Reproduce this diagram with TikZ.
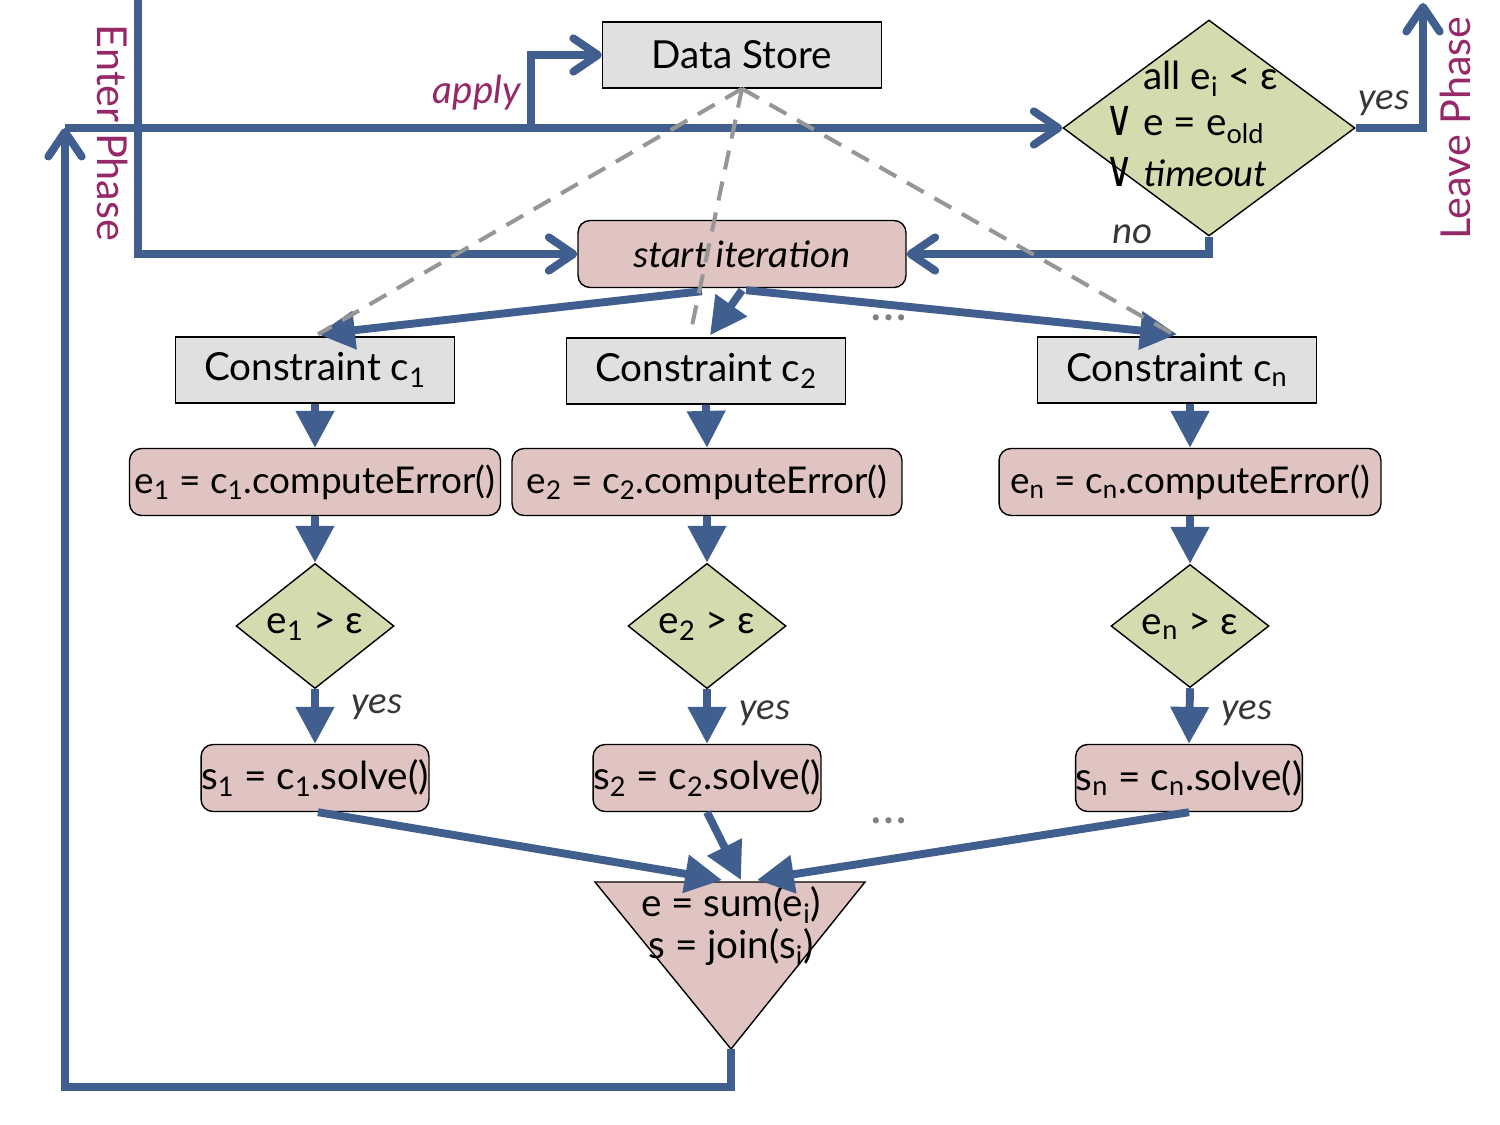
\documentclass[tikz,border=0pt]{standalone}
\usepackage{fontspec}
\usepackage{graphicx}
\setmainfont{Lato}
\newfontfamily\carl{Carlito}
\newfontfamily\dejavu{DejaVu Sans}
\usetikzlibrary{arrows.meta,shapes.geometric,calc}
\definecolor{fblue}{RGB}{64,94,142}
\definecolor{boxgray}{RGB}{224,224,224}
\definecolor{boxpink}{RGB}{224,196,194}
\definecolor{boxgreen}{RGB}{211,220,174}
\definecolor{phasepurple}{RGB}{150,40,105}
\definecolor{dgray}{RGB}{150,150,150}
\definecolor{lblgray}{RGB}{55,55,55}
\newcommand{\orsym}{\scalebox{1}[1.3]{\dejavu ∨}}
\begin{document}
\begin{tikzpicture}[x=0.02cm,y=-0.02cm,
  mainfont/.style={font=\fontsize{22pt}{26pt}\selectfont},
  gbox/.style={draw, line width=0.8pt, fill=boxgray, minimum width=5.58cm, minimum height=1.32cm, inner sep=0pt, mainfont},
  pbox/.style={draw, line width=0.8pt, fill=boxpink, rounded corners=0.24cm, minimum height=1.34cm, inner sep=0pt, mainfont},
  cbox/.style={pbox, font=\fontsize{21pt}{25pt}\selectfont},
  dia/.style={diamond, draw, line width=0.8pt, fill=boxgreen, inner sep=0pt, minimum width=3.16cm, minimum height=2.4cm, mainfont},
  flow/.style={draw=fblue, line width=4.5pt},
  chev/.style={flow, -{Straight Barb[length=14pt,width=19pt,round]}},
  tri/.style={flow, -{Triangle[length=21pt,width=21pt]}},
  dline/.style={draw=dgray, line width=2.3pt, dash pattern=on 11pt off 7pt},
  lbl/.style={text=lblgray, font=\fontsize{22pt}{26pt}\selectfont\carl\itshape},
  phase/.style={text=phasepurple, font=\fontsize{23.5pt}{26pt}\selectfont},
  dots/.style={text=gray, font=\fontsize{28pt}{30pt}\selectfont}
]
\useasboundingbox (0,0) rectangle (1500,1125);

% nodes
\node[gbox] (ds) at (742,55) {Data Store};
\node[diamond, draw, line width=0.8pt, fill=boxgreen, inner sep=0pt, minimum width=5.84cm, minimum height=4.32cm] (bd) at (1209,128) {};
\node[mainfont, anchor=west, inner sep=0pt] (dt1) at (1143,79) {all e\textsubscript{i} < ε};
\node[mainfont, anchor=west, inner sep=0pt] (dt2) at (1105,125) {\orsym\ e = e\textsubscript{old}};
\node[mainfont, anchor=west, inner sep=0pt] (dt3) at (1105,172) {\orsym\ {\carl\itshape timeout}};

\node[pbox, minimum width=6.56cm, font=\fontsize{22pt}{26pt}\selectfont\carl\itshape] (start) at (742,254) {start iteration};

\node[gbox] (c1) at (315,370) {Constraint c\textsubscript{1}};
\node[gbox] (c2) at (706,371) {Constraint c\textsubscript{2}};
\node[gbox] (cn) at (1177,370) {Constraint c\textsubscript{n}};

\node[cbox, minimum width=7.42cm] (e1) at (315,482) {e\textsubscript{1} = c\textsubscript{1}.computeError()};
\node[cbox, minimum width=7.8cm] (e2) at (707,482) {e\textsubscript{2} = c\textsubscript{2}.computeError()};
\node[cbox, minimum width=7.64cm] (en) at (1190,482) {e\textsubscript{n} = c\textsubscript{n}.computeError()};

\node[dia] (d1) at (315,626) {e\textsubscript{1} > ε};
\node[dia] (d2) at (707,626) {e\textsubscript{2} > ε};
\node[dia] (dn) at (1190,626) {e\textsubscript{n} > ε};

\node[pbox, minimum width=4.38cm] (s1) at (315,778) {s\textsubscript{1} = c\textsubscript{1}.solve()};
\node[pbox, minimum width=4.38cm] (s2) at (707,778) {s\textsubscript{2} = c\textsubscript{2}.solve()};
\node[pbox, minimum width=4.48cm] (sn) at (1189,778) {s\textsubscript{n} = c\textsubscript{n}.solve()};

% merge triangle
\coordinate (mleft) at (595,882);
\coordinate (mright) at (865,882);
\coordinate (mapex) at (731,1049);
\filldraw[fill=boxpink, draw=black, line width=0.8pt] (mleft) -- (mright) -- (mapex) -- cycle;
\node[mainfont, align=center, inner sep=0pt] (mtext) at (731,926) {e = sum(e\textsubscript{i})\\[-2pt] s = join(s\textsubscript{i})};
\coordinate (m1) at (722,880);
\coordinate (m2) at (741,880);
\coordinate (m3) at (757,880);

% labels
\node[phase, rotate=-90] (enterlbl) at (113,133) {Enter Phase};
\node[phase, rotate=90] (leavelbl) at (1455,128) {Leave Phase};
\node[text=phasepurple, font=\fontsize{22pt}{26pt}\selectfont\itshape, anchor=east, inner sep=0pt] (applylbl) at (521,93) {apply};
\node[lbl] (yesbig) at (1384,103) {yes};
\node[lbl] (nolbl) at (1132,234) {no};
\node[lbl] (y1) at (377,707) {yes};
\node[lbl] (y2) at (765,713) {yes};
\node[lbl] (yn) at (1247,713) {yes};
\node[dots] (dots1) at (889,318) {…};
\node[dots] (dots2) at (889,821) {…};

% coordinates for free ends
\coordinate (enter) at (138,0);
\coordinate (leave) at (1423,3);
\coordinate (lp) at (65,128);
\coordinate (loopc) at (65,1087);
\coordinate (aj) at (531,128);

% blue connectors
\draw[chev] (enter) |- (start.west);
\draw[chev] (mapex) |- (loopc) -- (lp);
\draw[chev] (lp) -- (bd.west);
\draw[chev] (aj) |- (ds.west);
\draw[chev] (bd.east) -| (leave);
\draw[chev] (bd.south) |- (start.east);

\draw[tri] ($(start.south)+(-40,3)$) -- ($(c1.north)+(3,-2)$);
\draw[tri] ($(start.south)+(0,2)$) -- ($(c2.north)+(4,-2)$);
\draw[tri] ($(start.south)+(4,2)$) -- ($(cn.north)+(0,-2)$);

\draw[tri] (c1.south) -- (e1.north);
\draw[tri] (c2.south) -- (e2.north);
\draw[tri] (en.north |- cn.south) -- (en.north);
\draw[tri] (e1.south) -- (d1.north);
\draw[tri] (e2.south) -- (d2.north);
\draw[tri] (en.south) -- (dn.north);
\draw[tri] (d1.south) -- (s1.north);
\draw[tri] (d2.south) -- (s2.north);
\draw[tri] (dn.south) -- (sn.north);

\draw[tri] ($(s1.south)+(3,0)$) -- (m1);
\draw[tri] (s2.south) -- (m2);
\draw[tri] (sn.south) -- (m3);

% dashed
\draw[dline] (ds.south) -- ($(c1.north)+(3,-2)$);
\draw[dline] (ds.south) -- ($(c2.north)+(-16,-2)$);
\draw[dline] (ds.south) -- (cn.north);
\end{tikzpicture}
\end{document}
